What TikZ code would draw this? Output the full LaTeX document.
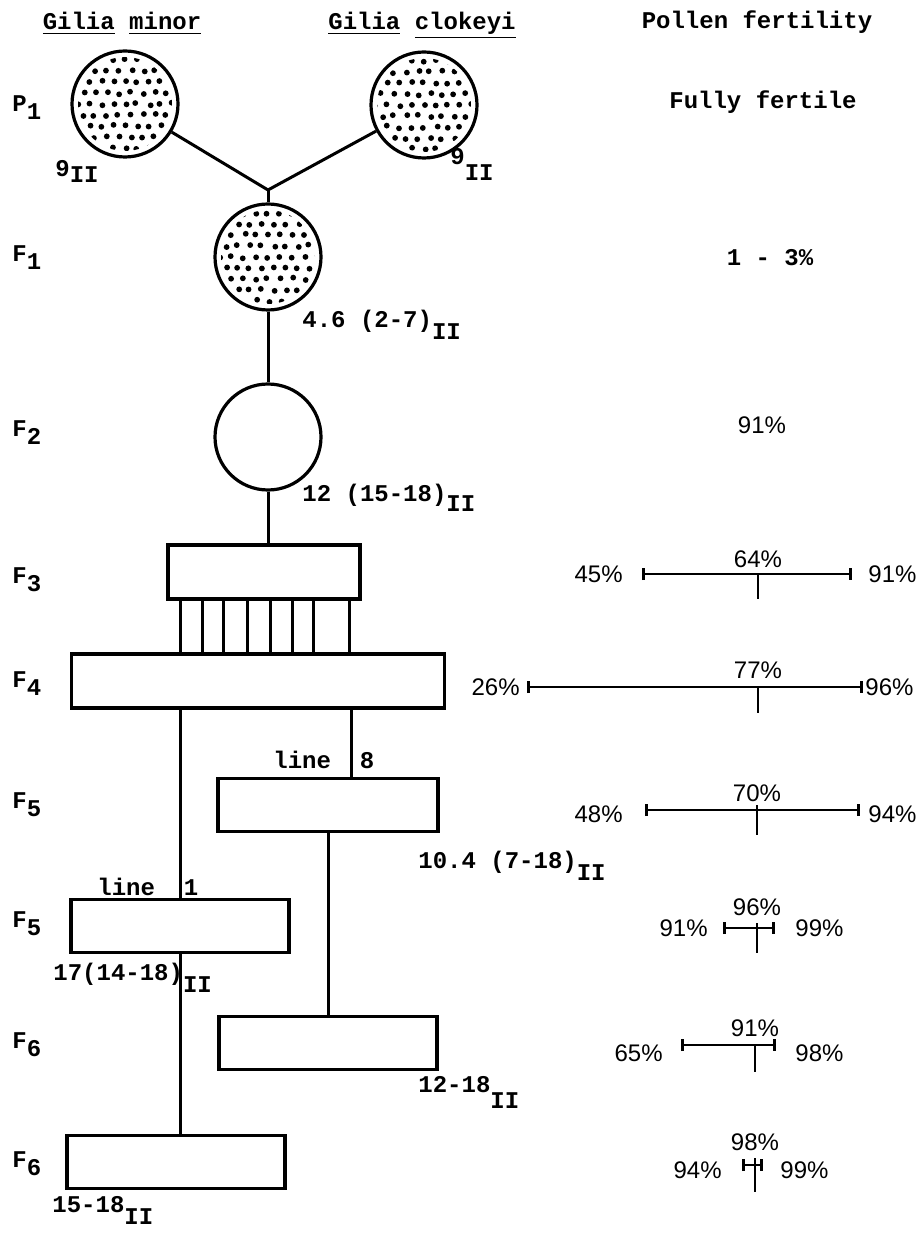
\documentclass[tikz,border=0pt]{standalone}
\usepackage{fontspec}
\setmonofont{Liberation Mono}
\newfontfamily\handfont{Liberation Sans}
\usepackage{tikz}
\usetikzlibrary{
  arrows.meta,
  positioning,
  calc
}
\newcommand{\gen}[2]{#1\raisebox{-4pt}{#2}}
\newcommand{\bivl}[1][6pt]{\raisebox{-#1}{II}}
\tikzset{
  typed/.style={font=\fontsize{12}{14}\selectfont\ttfamily\bfseries,inner sep=0pt},
  pct/.style={font=\fontsize{12}{14}\selectfont\handfont,inner sep=0pt},
  plantcircle/.style={
    circle,
    draw,
    line width=1.6pt,
    minimum size=53pt,
    inner sep=0pt
  },
  stippled/.style={
    plantcircle,
    path picture={
      \clip (path picture bounding box.center) circle[radius=23.5pt];
      \foreach \i in {-4,...,4}{
        \foreach \j in {-5,...,5}{
          \fill ($(path picture bounding box.center)+({\i*6pt+mod(\j,2)*3pt+rand*0.9pt},{\j*5.5pt+rand*0.7pt})$)
            circle[radius=1.45pt];
        }
      }
    }
  },
  genbox/.style={
    draw,
    line width=1.6pt,
    minimum height=26.5pt,
    minimum width=109pt,
    inner sep=0pt
  },
  crossline/.style={line width=1.5pt},
  rangebar/.style={line width=1.4pt,{Bar[width=6pt]}-{Bar[width=6pt]}},
  medtick/.style={line width=1.4pt}
}

\begin{document}
\begin{tikzpicture}[x=0.5pt,y=-0.5pt]
  \useasboundingbox (0,0) rectangle (917,1234);
  \pgfmathsetseed{11}

  % column heads
  \node[typed,anchor=base] (hmin) at (122,30) {\underline{Gilia} \underline{minor}};
  \node[typed,anchor=base] (hclo) at (422,30) {\underline{Gilia} \underline{clokeyi}};
  \node[typed,anchor=base] (hpol) at (757,29) {Pollen fertility};

  % generations
  \node[typed,anchor=base west] (gP1) at (12,112) {\gen{P}{1}};
  \node[typed,anchor=base west] (gF1) at (12,262) {\gen{F}{1}};
  \node[typed,anchor=base west] (gF2) at (12,437) {\gen{F}{2}};
  \node[typed,anchor=base west] (gF3) at (12,583) {\gen{F}{3}};
  \node[typed,anchor=base west] (gF4) at (12,687) {\gen{F}{4}};
  \node[typed,anchor=base west] (gF5a) at (12,808) {\gen{F}{5}};
  \node[typed,anchor=base west] (gF5b) at (12,927) {\gen{F}{5}};
  \node[typed,anchor=base west] (gF6a) at (12,1048) {\gen{F}{6}};
  \node[typed,anchor=base west] (gF6b) at (12,1167) {\gen{F}{6}};

  % plants and lines
  \node[stippled] (p1a) at (125,104) {};
  \node[stippled] (p1b) at (424,105) {};
  \coordinate (jn) at (268,190);
  \node[stippled] (f1) at (268,257) {};
  \node[plantcircle] (f2) at (268,437) {};
  \node[genbox,minimum width=96pt,minimum height=27pt] (f3) at (264,572) {};
  \node[genbox,minimum width=186.5pt,minimum height=27pt] (f4) at (258,681) {};
  \node[genbox,minimum width=110pt] (f5a) at (328,805) {};
  \node[genbox] (f5b) at (180,926) {};
  \node[genbox] (f6a) at (328,1043) {};
  \node[genbox] (f6b) at (176,1162) {};

  \draw[crossline] (p1a) -- (jn);
  \draw[crossline] (p1b) -- (jn);
  \draw[crossline] (jn) -- (f1);
  \draw[crossline] (f1) -- (f2);
  \draw[crossline] (f2) -- (f2 |- f3.north);
  \foreach \x in {180,202,223,247,270,292,313,349}
    \draw[crossline] (\x,0 |- f3.south) -- (\x,0 |- f4.north);
  \draw[crossline] (f5b.north |- f4.south) -- (f5b.north);
  \draw[crossline] (351,0 |- f4.south) -- (351,0 |- f5a.north);
  \draw[crossline] (f5a) -- (f6a);
  \draw[crossline] (f5b.south) -- (f5b.south |- f6b.north);

  \node[typed,anchor=base west] (line8) at (273,768) {line~~8};
  \node[typed,anchor=base west] (line1) at (97,895) {line~~1};

  % bivalents
  \node[typed,anchor=base west] (c1a) at (55,177) {9\bivl[3pt]};
  \node[typed,anchor=base west] (c1b) at (450,165) {9\bivl[8pt]};
  \node[typed,anchor=base west] (cf1) at (302,328) {4.6 (2-7)\bivl};
  \node[typed,anchor=base west] (cf2) at (302,502) {12 (15-18)\bivl[5pt]};
  \node[typed,anchor=base west] (cf5a) at (418,868) {10.4 (7-18)\bivl};
  \node[typed,anchor=base west] (cf5b) at (53,980) {17(14-18)\bivl};
  \node[typed,anchor=base west] (cf6a) at (418,1092) {12-18\bivl[8pt]};
  \node[typed,anchor=base west] (cf6b) at (52,1212) {15-18\bivl[6pt]};

  % pollen fertility
  \node[typed,anchor=base] (ffer) at (763,109) {Fully fertile};
  \node[typed,anchor=base] (fone) at (770,266) {1 - 3\%};
  \node[pct] (ftwo) at (762,425) {91\%};

  \coordinate (r3lo) at (642,574);
  \coordinate (r3hi) at (852,574);
  \coordinate (r3md) at (758,574);
  \draw[rangebar] (r3lo) -- (r3hi);
  \draw[medtick] (r3md) -- ++(0,25);
  \node[pct,left=9.5pt of r3lo] (n3lo) {45\%};
  \node[pct,right=8pt of r3hi] (n3hi) {91\%};
  \node[pct,above=3pt of r3md] (n3md) {64\%};

  \coordinate (r4lo) at (527,687);
  \coordinate (r4hi) at (863,687);
  \coordinate (r4md) at (758,687);
  \draw[rangebar] (r4lo) -- (r4hi);
  \draw[medtick] (r4md) -- ++(0,26);
  \node[pct,left=3.5pt of r4lo] (n4lo) {26\%};
  \node[pct,right=1pt of r4hi] (n4hi) {96\%};
  \node[pct,above=4pt of r4md] (n4md) {77\%};

  \coordinate (r5alo) at (645,810);
  \coordinate (r5ahi) at (860,810);
  \coordinate (r5amd) at (757,810);
  \draw[rangebar] (r5alo) -- (r5ahi);
  \draw[medtick] (r5amd) ++(0,-5) -- ++(0,30);
  \node[pct,left=11pt of r5alo,yshift=-2pt] (n5alo) {48\%};
  \node[pct,right=4pt of r5ahi,yshift=-2pt] (n5ahi) {94\%};
  \node[pct,above=4pt of r5amd] (n5amd) {70\%};

  \coordinate (r5blo) at (723,928);
  \coordinate (r5bhi) at (775,928);
  \coordinate (r5bmd) at (757,928);
  \draw[rangebar] (r5blo) -- (r5bhi);
  \draw[medtick] (r5bmd) ++(0,-5) -- ++(0,30);
  \node[pct,left=7.5pt of r5blo] (n5blo) {91\%};
  \node[pct,right=10pt of r5bhi] (n5bhi) {99\%};
  \node[pct,above=6pt of r5bmd] (n5bmd) {96\%};

  \coordinate (r6alo) at (681,1045);
  \coordinate (r6ahi) at (776,1045);
  \coordinate (r6amd) at (755,1045);
  \draw[rangebar] (r6alo) -- (r6ahi);
  \draw[medtick] (r6amd) -- ++(0,27);
  \node[pct,left=9pt of r6alo,yshift=-4pt] (n6alo) {65\%};
  \node[pct,right=9.5pt of r6ahi,yshift=-4pt] (n6ahi) {98\%};
  \node[pct,above=4pt of r6amd] (n6amd) {91\%};

  \coordinate (r6blo) at (742,1165);
  \coordinate (r6bhi) at (763,1165);
  \coordinate (r6bmd) at (755,1165);
  \draw[rangebar] (r6blo) -- (r6bhi);
  \draw[medtick] (r6bmd) ++(0,-7) -- ++(0,34);
  \node[pct,left=10pt of r6blo,yshift=-2.5pt] (n6blo) {94\%};
  \node[pct,right=8.5pt of r6bhi,yshift=-2.5pt] (n6bhi) {99\%};
  \node[pct,above=7pt of r6bmd] (n6bmd) {98\%};
\end{tikzpicture}
\end{document}
